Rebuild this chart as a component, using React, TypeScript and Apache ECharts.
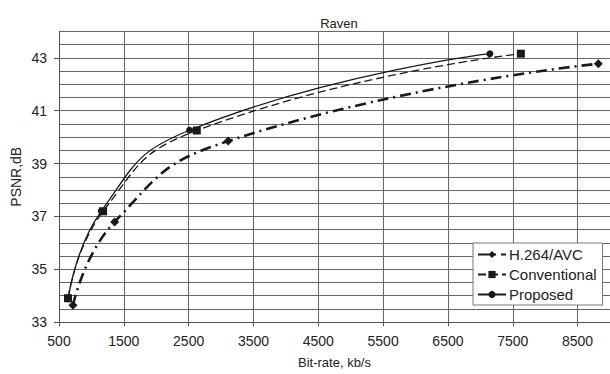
import React, { useEffect, useRef } from "react";
import * as echarts from "echarts";

const xTicks = [500, 1500, 2500, 3500, 4500, 5500, 6500, 7500, 8500];
const yTicks = [33, 35, 37, 39, 41, 43];

const h264: [number, number][] = [
  [716, 33.63],
  [1358, 36.79],
  [3110, 39.85],
  [8820, 42.78],
];
const conventional: [number, number][] = [
  [639, 33.9],
  [1180, 37.19],
  [2626, 40.25],
  [7625, 43.16],
];
const proposed: [number, number][] = [
  [645, 33.88],
  [1153, 37.2],
  [2514, 40.26],
  [7147, 43.16],
];

const FONT = "'Liberation Sans', Arial, sans-serif";
const INK = "#222";

export default function App() {
  const ref = useRef<HTMLDivElement>(null);
  useEffect(() => {
    if (!ref.current) return;
    const chart = echarts.init(ref.current, undefined, { renderer: "svg" });
    chart.setOption({
      animation: false,
      backgroundColor: "#fff",
      textStyle: { fontFamily: FONT, color: INK },
      title: {
        text: "Raven",
        left: 334,
        top: 12,
        textAlign: "center",
        textStyle: { fontFamily: FONT, fontSize: 13, fontWeight: "normal", color: INK },
      },
      grid: { left: 59, right: 0, top: 31.5, bottom: 51.3, containLabel: false },
      legend: {
        orient: "vertical",
        left: 473,
        top: 243,
        padding: [4, 6, 3, 4],
        itemGap: 5,
        itemWidth: 28,
        itemHeight: 9,
        backgroundColor: "#fff",
        borderColor: "#777",
        borderWidth: 1,
        borderRadius: 0,
        textStyle: { fontFamily: FONT, fontSize: 15, color: INK, padding: [0, 0, 0, -2] },
        data: ["H.264/AVC", "Conventional", "Proposed"],
      },
      xAxis: {
        type: "value",
        min: 500,
        max: 9000,
        name: "Bit-rate, kb/s",
        nameLocation: "middle",
        nameGap: 34,
        nameTextStyle: { fontFamily: FONT, fontSize: 13, color: INK },
        axisLine: { show: true, lineStyle: { color: "#555", width: 1 } },
        axisTick: { show: true, length: 4, customValues: xTicks, lineStyle: { color: "#555" } },
        axisLabel: {
          customValues: xTicks,
          margin: 12,
          fontFamily: FONT,
          fontSize: 14,
          color: INK,
          formatter: (v: number) => String(v),
        },
        splitLine: { show: true, lineStyle: { color: "#666", width: 1 } },
      },
      yAxis: [
        {
          type: "value",
          min: 33,
          max: 44,
          interval: 0.5,
          name: "PSNR,dB",
          nameLocation: "middle",
          nameGap: 36,
          nameTextStyle: { fontFamily: FONT, fontSize: 14, color: INK },
          axisLine: { show: true, lineStyle: { color: "#555", width: 1 } },
          axisTick: { show: false },
          axisLabel: { show: false },
          splitLine: { show: true, lineStyle: { color: "#666", width: 1 } },
        },
        {
          type: "value",
          min: 33,
          max: 44,
          position: "left",
          axisLine: { show: false },
          axisTick: { show: true, length: 5, customValues: yTicks, lineStyle: { color: "#555" } },
          axisLabel: {
            customValues: yTicks,
            margin: 12,
            fontFamily: FONT,
            fontSize: 14,
            color: INK,
          },
          splitLine: { show: false },
        },
      ],
      series: [
        {
          name: "H.264/AVC",
          type: "line",
          yAxisIndex: 0,
          data: h264,
          smooth: 0.5,
          symbol: "diamond",
          symbolSize: 9,
          itemStyle: { color: "#1a1a1a" },
          lineStyle: { color: "#1a1a1a", width: 2.6, type: [11, 5, 2, 5] },
        },
        {
          name: "Conventional",
          type: "line",
          yAxisIndex: 0,
          data: conventional,
          smooth: 0.5,
          symbol: "rect",
          symbolSize: 8,
          itemStyle: { color: "#1a1a1a" },
          lineStyle: { color: "#1a1a1a", width: 1.3, type: [8, 4] },
        },
        {
          name: "Proposed",
          type: "line",
          yAxisIndex: 0,
          data: proposed,
          smooth: 0.5,
          symbol: "circle",
          symbolSize: 7,
          itemStyle: { color: "#1a1a1a" },
          lineStyle: { color: "#1a1a1a", width: 1.3 },
        },
      ],
    });
    return () => chart.dispose();
  }, []);
  return (
    <div
      ref={ref}
      style={{ position: "absolute", left: 0, top: 0, width: 610, height: 374 }}
    />
  );
}
